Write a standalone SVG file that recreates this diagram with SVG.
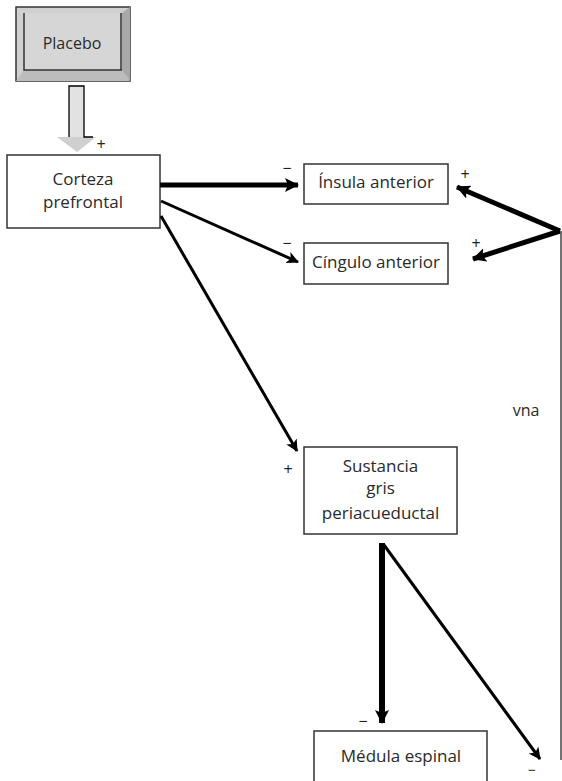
<svg xmlns="http://www.w3.org/2000/svg" width="562" height="781" viewBox="0 0 562 781">
<defs>
<style>
.box{fill:#fff;stroke:#333;stroke-width:1.5}
.t{font-family:"Open Sans","Liberation Sans",sans-serif;font-size:17px;fill:#2a2a2a;text-anchor:middle}
.s{font-family:"Open Sans","Liberation Sans",sans-serif;font-size:16px;fill:#222;text-anchor:middle}
.thick{stroke:#000;stroke-width:5;fill:none}
.thin{stroke:#000;stroke-width:3;fill:none}
</style>
<marker id="ah" viewBox="0 0 14 14" refX="13" refY="7" markerWidth="14" markerHeight="14" markerUnits="userSpaceOnUse" orient="auto">
<path d="M0,0 L14,7 L0,14 L3,7 z" fill="#000"/>
</marker>
<marker id="ahs" viewBox="0 0 12 12" refX="11" refY="6" markerWidth="12" markerHeight="12" markerUnits="userSpaceOnUse" orient="auto">
<path d="M0,0 L12,6 L0,12 L3,6 z" fill="#000"/>
</marker>
</defs>
<rect width="562" height="781" fill="#fff"/>

<g id="placebo">
<rect x="16" y="7" width="114" height="74" fill="#d0d0d0" stroke="#333" stroke-width="1.5"/>
<polygon points="16,81 130,81 122,70 24,70" fill="#bcbcbc"/>
<polygon points="130,7 130,81 122,70 122,13" fill="#a8a8a8"/>
<rect x="24" y="13" width="98" height="57" fill="#d6d6d6"/>
<path d="M24,13 L24,70 L122,70 M121,13 L121,70" stroke="#333" stroke-width="1.5" fill="none"/>
<text class="t" x="72" y="49" style="font-size:16px">Placebo</text>
</g>

<g id="placebo-arrow">
<rect x="69" y="86" width="15" height="51" fill="#e2e2e2"/>
<polygon points="57,137 96,137 77,152" fill="#d0d0d0"/>
<path d="M69,137 L69,86 L84,86 L84,137 L93,137" stroke="#000" stroke-width="1.3" fill="none"/>
</g>

<g id="corteza">
<rect class="box" x="7" y="155" width="153" height="73"/>
<text class="t" x="83" y="185">Corteza</text>
<text class="t" x="83" y="208">prefrontal</text>
</g>

<g id="insula">
<rect class="box" x="304" y="164" width="144" height="40"/>
<text class="t" x="376" y="188">Ínsula anterior</text>
</g>

<g id="cingulo">
<rect class="box" x="304" y="243" width="144" height="41"/>
<text class="t" x="376" y="268">Cíngulo anterior</text>
</g>

<g id="sustancia">
<rect class="box" x="304" y="447" width="153" height="87"/>
<text class="t" x="380.5" y="472">Sustancia</text>
<text class="t" x="380.5" y="494">gris</text>
<text class="t" x="380.5" y="519">periacueductal</text>
</g>

<g id="medula">
<rect class="box" x="314" y="731" width="173" height="60"/>
<text class="t" x="401" y="762">Médula espinal</text>
</g>

<g id="connectors">
<line class="thick" x1="160" y1="185" x2="298" y2="185" marker-end="url(#ah)"/>
<line class="thin" x1="161" y1="201" x2="298" y2="262" marker-end="url(#ahs)"/>
<line class="thin" x1="161" y1="216" x2="297" y2="451" marker-end="url(#ahs)"/>
<line class="thick" x1="560" y1="231" x2="457" y2="187" marker-end="url(#ah)"/>
<line class="thick" x1="560" y1="231" x2="473" y2="259" marker-end="url(#ah)"/>
<line x1="382" y1="543" x2="382" y2="723" stroke="#000" stroke-width="6" marker-end="url(#ah)"/>
<line class="thin" x1="384" y1="545" x2="540" y2="759" marker-end="url(#ahs)"/>
<line x1="561" y1="231" x2="561" y2="760" stroke="#444" stroke-width="1.5"/>
</g>

<g id="labels">
<text class="s" x="101" y="150">+</text>
<text class="s" x="287" y="174">−</text>
<text class="s" x="287" y="249">−</text>
<text class="s" x="465" y="180">+</text>
<text class="s" x="476" y="249">+</text>
<text class="s" x="288" y="475">+</text>
<text class="s" x="363" y="727">−</text>
<text class="s" x="532" y="775" style="font-size:14px">−</text>
<text class="t" x="526" y="416" style="font-size:16px">vna</text>
</g>
</svg>
